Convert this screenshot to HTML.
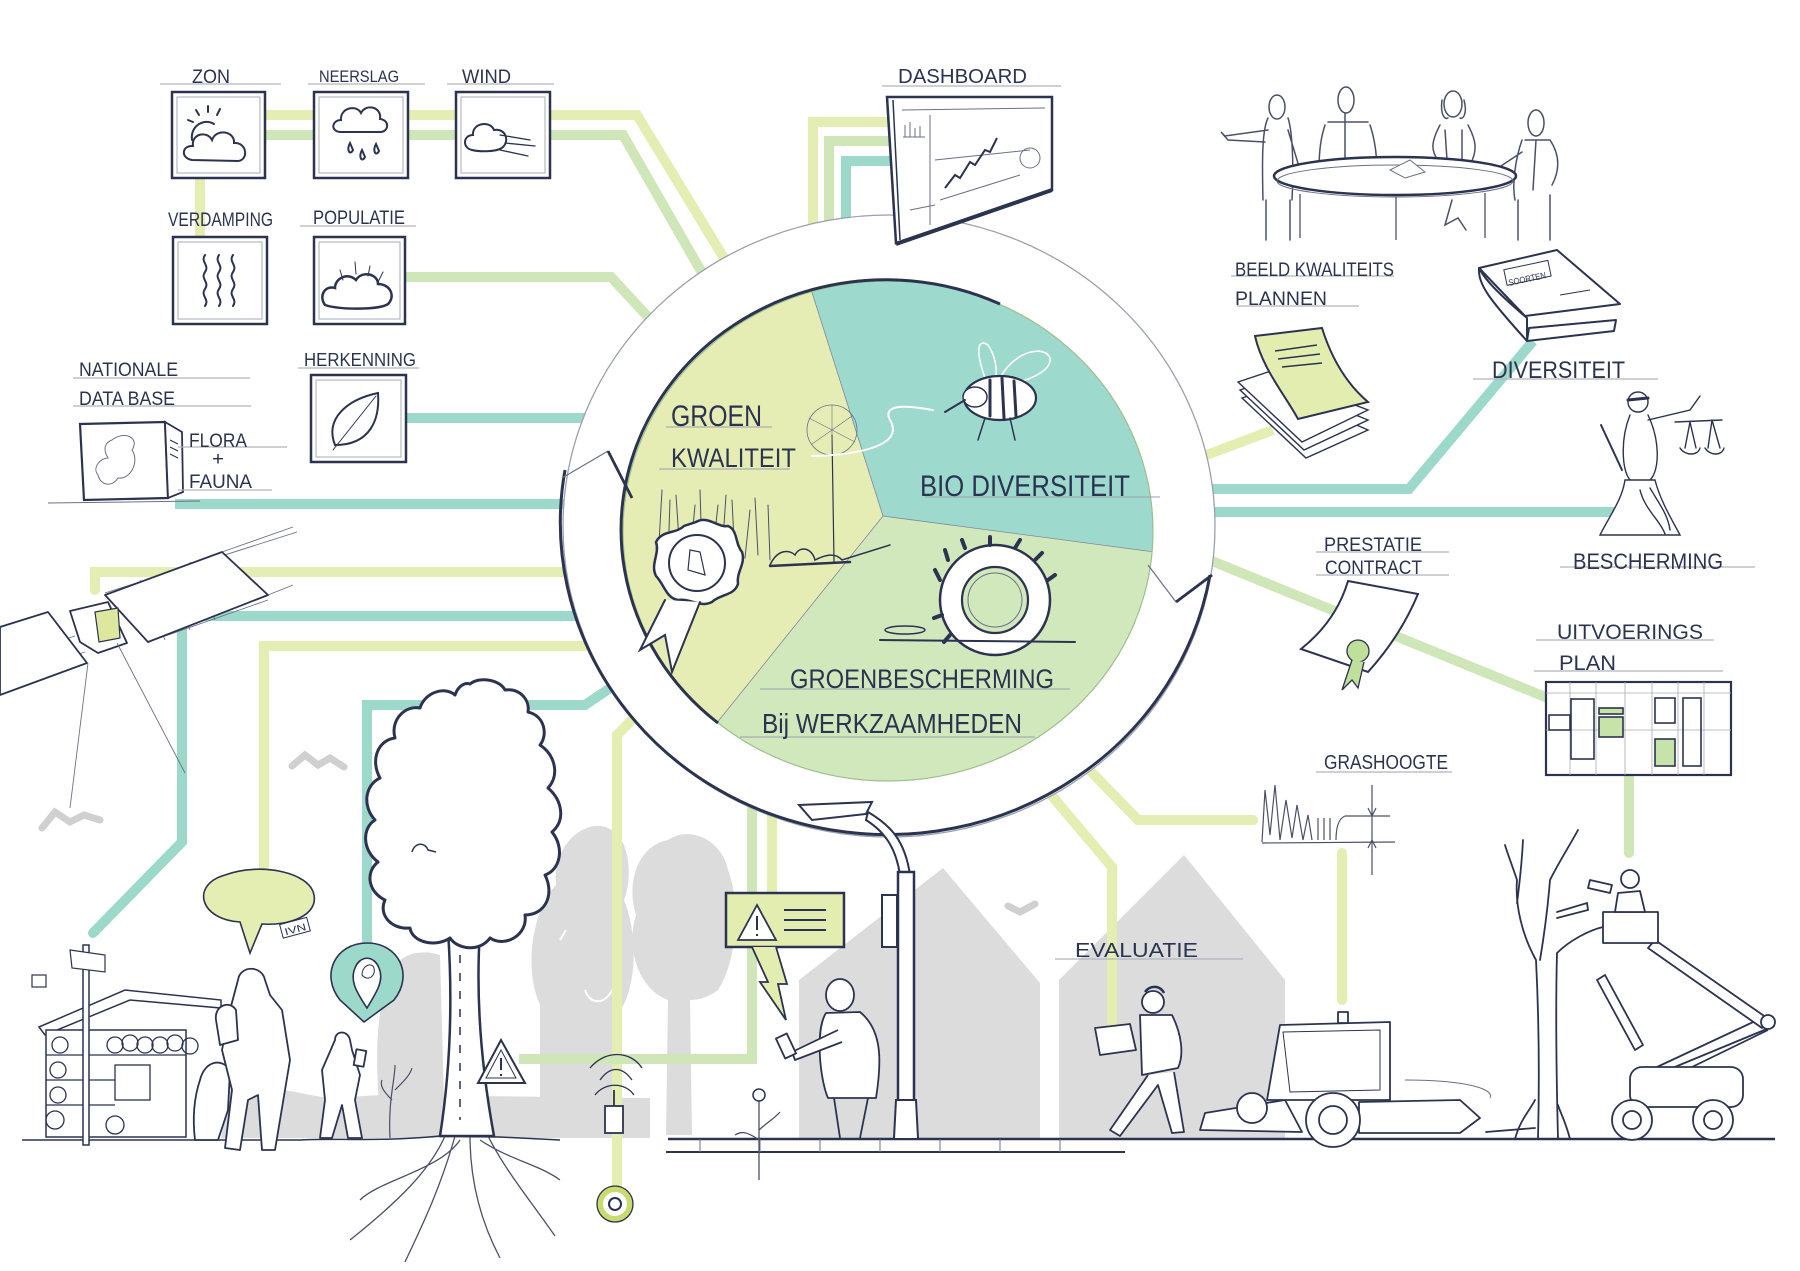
<!DOCTYPE html>
<html><head><meta charset="utf-8"><style>
html,body{margin:0;padding:0;background:#fff;}
svg{display:block}
text{font-family:"Liberation Sans",sans-serif;fill:#2b3350;}
</style></head><body>
<svg width="1800" height="1271" viewBox="0 0 1800 1271" xmlns="http://www.w3.org/2000/svg">
<defs>
<clipPath id="pieclip"><ellipse cx="888" cy="531" rx="265" ry="250"/></clipPath>
</defs>
<rect width="1800" height="1271" fill="#fff"/>

<!-- ===== gray silhouettes ===== -->
<g fill="#dcdcdc">
  <path d="M540,1135 L540,1005 C522,965 535,905 556,885 C552,845 585,818 608,828 C632,838 632,880 624,900 C642,945 632,1000 618,1012 L622,1135 Z"/>
  <path d="M666,1135 L668,1000 C640,990 625,950 636,915 C625,880 640,845 668,840 C690,825 722,840 728,870 C740,900 738,960 718,990 C705,1000 692,1000 690,1000 L692,1135 Z"/>
  <path d="M382,1135 C376,1080 372,1010 392,975 C395,955 420,948 440,955 L445,1135 Z"/>
  <path d="M221,1138 L230,1090 C260,1080 300,1095 330,1098 L380,1095 L650,1098 L650,1138 Z"/>
  <polygon points="799,1138 799,980 943,868 1040,983 1040,1138"/>
  <polygon points="1059,1138 1059,980 1184,855 1285,980 1285,1138"/>
</g>
<g fill="none" stroke="#fff" stroke-width="2">
  <path d="M585,990 C590,1005 605,1005 612,990"/>
  <path d="M560,940 L566,930"/>
</g>
<g fill="none" stroke="#d0d0d0" stroke-width="7" stroke-linecap="round">
  <path d="M292,766 L305,755 L318,765 L330,758 L344,767"/>
  <path d="M42,828 L55,812 L70,822 L84,815 L100,820"/>
  <path d="M1008,906 L1020,912 L1035,904"/>
</g>

<!-- ===== connector lines ===== -->
<g fill="none" stroke-width="10" stroke-linejoin="miter">
  <polyline stroke="#e4edb2" points="220,115 637,115 730,268"/>
  <polyline stroke="#cfe7b8" points="220,135 623,135 705,278"/>
  <polyline stroke="#e4edb2" points="200,175 200,240"/>
  <polyline stroke="#cfe7b8" points="400,277 611,277 662,332"/>
  <polyline stroke="#9cd9cb" points="400,418 610,418"/>
  <polyline stroke="#9cd9cb" points="175,504 610,504"/>
  <polyline stroke="#e4edb2" stroke-linecap="round" points="95,590 95,572 610,572"/>
  <polyline stroke="#9cd9cb" stroke-linecap="round" points="93,933 182,842 182,616 610,616"/>
  <polyline stroke="#e4edb2" points="264,872 264,646 610,646"/>
  <polyline stroke="#9cd9cb" points="367,945 367,705 585,705 625,678"/>
  <polyline stroke="#e4edb2" points="617,1190 617,735 640,712"/>
  <polyline stroke="#cfe7b8" points="519,1059 752,1059 752,790"/>
  <polyline stroke="#e4edb2" points="772,892 772,790"/>
  <polyline stroke="#e4edb2" points="813,245 813,122 892,122"/>
  <polyline stroke="#cfe7b8" points="829,245 829,141 892,141"/>
  <polyline stroke="#9cd9cb" points="846,245 846,161 892,161"/>
  <polyline stroke="#e4edb2" points="1180,465 1273,430"/>
  <polyline stroke="#9cd9cb" points="1190,489 1409,489 1533,341"/>
  <polyline stroke="#9cd9cb" stroke-linecap="round" points="1190,512 1620,512"/>
  <polyline stroke="#cfe7b8" points="1190,552 1550,699"/>
  <polyline stroke="#cfe7b8" stroke-linecap="round" points="1629,772 1629,853"/>
  <polyline stroke="#e4edb2" stroke-linecap="round" points="1070,750 1138,820 1253,820"/>
  <polyline stroke="#e4edb2" points="1030,770 1112,867 1112,1030"/>
  <polyline stroke="#e4edb2" stroke-linecap="round" points="1342,853 1342,1000"/>
</g>

<!-- ===== weather boxes ===== -->
<g stroke="#2b3350" stroke-width="2.5" fill="#fff">
  <rect x="172" y="92" width="93" height="86"/>
  <rect x="314" y="92" width="94" height="86"/>
  <rect x="456" y="92" width="94" height="86"/>
  <rect x="173" y="237" width="94" height="87"/>
  <rect x="314" y="237" width="91" height="87"/>
  <rect x="311" y="375" width="95" height="87"/>
</g>
<g stroke="#a6abb8" stroke-width="1" fill="none">
  <rect x="177" y="97" width="83" height="76"/>
  <rect x="319" y="97" width="84" height="76"/>
  <rect x="461" y="97" width="84" height="76"/>
  <rect x="178" y="242" width="84" height="77"/>
  <rect x="319" y="242" width="81" height="77"/>
  <rect x="316" y="380" width="85" height="77"/>
</g>
<g stroke="#2b3350" stroke-width="2" fill="none" stroke-linecap="round">
  <path d="M192,140 C190,125 205,118 214,124"/>
  <path d="M208,106 L208,112 M196,110 L199,115 M220,109 L217,115 M188,120 L193,122"/>
  <path d="M192,160 C180,158 182,145 193,146 C191,134 207,130 212,140 C216,128 235,131 234,143 C247,142 249,160 238,161 Z"/>
  <path d="M340,132 C330,131 332,120 341,120 C340,108 356,104 361,113 C366,103 382,107 380,119 C390,120 389,132 380,132 Z"/>
  <path d="M350,143 C346,150 350,156 353,150 Z M362,150 C358,157 362,163 365,157 Z M376,144 C372,151 376,157 379,151 Z"/>
  <path d="M472,150 C462,148 463,135 473,135 C472,123 490,120 494,130 C505,128 510,140 503,147 C498,152 480,152 472,150 Z"/>
  <path d="M500,135 L530,140 M505,143 L535,146 M500,150 L528,156" stroke-width="1.3"/>
  <path d="M205,255 c-5,7 5,10 0,17 c-5,7 5,10 0,17 c-5,7 5,10 0,17"/>
  <path d="M219,255 c-5,7 5,10 0,17 c-5,7 5,10 0,17 c-5,7 5,10 0,17"/>
  <path d="M233,255 c-5,7 5,10 0,17 c-5,7 5,10 0,17 c-5,7 5,10 0,17"/>
  <path d="M325,305 C318,295 326,285 335,288 C335,278 348,272 356,280 C362,270 378,274 378,284 C390,284 396,296 388,304 C380,310 340,310 325,305 Z" stroke-width="2.5"/>
  <path d="M340,270 L343,280 M355,262 L356,274 M370,266 L368,276 M383,272 L378,282" stroke-width="1"/>
  <path d="M335,445 C325,420 345,400 378,393 C380,420 370,445 335,445 Z"/>
  <path d="M333,450 L376,396" stroke-width="1"/>
</g>

<!-- database box -->
<g stroke="#2b3350" fill="#fff">
  <polygon points="80,424 165,422 168,498 84,500" stroke-width="2.2"/>
  <polygon points="165,422 182,432 183,492 168,498" stroke-width="1.8"/>
  <path d="M112,440 C125,430 140,438 132,450 C140,462 130,480 118,478 C112,488 100,485 98,475 C92,468 100,458 108,458 C102,448 106,442 112,440 Z" fill="none" stroke="#6a7088" stroke-width="1"/>
  <path d="M170,440 L178,444 M170,447 L178,451 M170,454 L178,458" stroke-width="1" fill="none"/>
</g>
<line x1="48" y1="503" x2="200" y2="501" stroke="#6a7088" stroke-width="1"/>

<!-- satellite -->
<g stroke="#6a7088" stroke-width="0.9" fill="none">
  <path d="M105,593 L297,532 M222,552 L293,527 M268,595 L293,585 M148,642 L268,600"/>
  <path d="M0,660 L75,636 M18,675 L85,652 M120,610 L200,582 M135,625 L230,590 M140,580 L165,640 M165,572 L190,630 M190,562 L215,620"/>
</g>
<g stroke="#2b3350" stroke-width="1.8" fill="#fff" stroke-linejoin="round">
  <polygon points="0,627 48,612 87,663 0,695"/>
  <polygon points="105,595 222,552 268,595 148,642"/>
  <polygon points="70,611 108,602 127,643 98,653 80,642"/>
  <polygon points="95,612 118,608 120,638 99,642" fill="#dde89e" stroke-width="1.2"/>
</g>
<g stroke="#6a7088" stroke-width="0.9">
  <line x1="88" y1="663" x2="70" y2="808"/>
  <line x1="117" y1="643" x2="185" y2="773"/>
</g>

<!-- ===== central circle ===== -->
<ellipse cx="889" cy="526" rx="326" ry="311" fill="#fff" stroke="#9aa0ad" stroke-width="1.3"/>
<path d="M1210,575 A326,311 0 1,1 565,470" fill="none" stroke="#2b3350" stroke-width="3"/>
<g clip-path="url(#pieclip)">
  <polygon fill="#e5edb4" points="883,516 735,50 300,50 300,1000 549,932"/>
  <polygon fill="#9ed9ce" points="883,516 735,50 1500,50 1500,590 1420,586"/>
  <polygon fill="#d1e8bd" points="883,516 1420,586 1500,590 1500,1000 549,932"/>
  <g stroke="#7e8a9a" stroke-width="0.8" fill="none">
    <line x1="883" y1="516" x2="809" y2="283"/>
    <line x1="883" y1="516" x2="1155" y2="552"/>
    <line x1="883" y1="516" x2="716" y2="724"/>
  </g>
</g>
<ellipse cx="888" cy="531" rx="265" ry="250" fill="none" stroke="#9dbf8c" stroke-width="1.2"/>
<path d="M718,723 A265,250 0 0,1 1000,304" fill="none" stroke="#2b3350" stroke-width="3"/>
<polyline points="562,478 608,451" fill="none" stroke="#6a7088" stroke-width="1.2"/>
<polyline points="608,451 632,498" fill="none" stroke="#2b3350" stroke-width="2.8"/>
<polyline points="1148,565 1176,602" fill="none" stroke="#6a7088" stroke-width="1.2"/>
<polyline points="1176,602 1212,575" fill="none" stroke="#2b3350" stroke-width="2.8"/>

<!-- pie decorations -->
<g stroke="#2b3350" fill="none" stroke-linecap="round">
  <path d="M658,560 L662,490 M668,560 L670,500 M680,555 L676,495 M690,560 L695,505 M702,555 L700,490 M712,560 L718,505 M722,555 L726,495 M735,560 L732,500 M745,558 L750,510 M758,555 L755,498 M770,560 L768,505" stroke-width="1" stroke="#4a5068"/>
  <path d="M770,565 C778,548 790,550 795,555 C800,545 812,548 815,560 C825,555 835,552 842,560 L890,545" stroke-width="1.5"/>
  <path d="M770,566 L850,562" stroke-width="2.5"/>
  <circle cx="832" cy="430" r="25" stroke-width="0.8" stroke="#6a7088"/>
  <path d="M832,435 L834,562" stroke-width="1.2"/>
  <path d="M809,418 L855,442 M832,405 L832,455 M812,444 L852,416" stroke-width="0.6" stroke="#6a7088"/>
  <path d="M696,522 C708,515 718,528 728,526 C738,530 735,544 742,552 C746,564 736,572 738,584 C734,596 720,594 712,602 C700,608 690,598 678,600 C666,598 664,584 656,576 C650,564 660,554 656,542 C662,530 676,534 684,526 Z" fill="#fff" stroke-width="2.5"/>
  <circle cx="697" cy="563" r="28" stroke-width="2"/>
  <path d="M665,600 L640,650 L665,635 L672,672 L700,602" fill="#fff" stroke-width="2"/>
  <path d="M688,570 L690,550 L700,552 L705,575 Z" stroke-width="1.2"/>
  <path d="M812,456 C860,455 905,445 890,420 C880,400 920,408 933,410" stroke="#fff" stroke-width="2"/>
  <path d="M985,378 C975,350 978,338 988,345 C995,355 998,370 995,380" stroke="#fff" stroke-width="1.6"/>
  <path d="M1000,378 C1015,350 1045,345 1050,358 C1052,372 1025,382 1005,385" stroke="#fff" stroke-width="1.6"/>
  <ellipse cx="1000" cy="398" rx="36" ry="22" fill="#fff" stroke-width="2.2"/>
  <ellipse cx="975" cy="397" rx="12" ry="10" fill="#fff" stroke-width="1.5"/>
  <path d="M990,380 L990,416 M1002,378 L1004,418 M1014,381 L1016,416" stroke-width="3"/>
  <path d="M965,400 L945,412" stroke-width="2"/>
  <path d="M985,418 L978,440 M1010,418 L1015,440" stroke-width="1.5"/>
  <circle cx="995" cy="600" r="55" fill="#fff" stroke-width="2.5"/>
  <circle cx="995" cy="600" r="33" fill="#d1e8bd" stroke-width="2.2"/>
  <circle cx="995" cy="600" r="27" stroke-width="1" stroke="#6a7088"/>
  <path d="M940,580 L935,570 M948,560 L945,550 M965,548 L962,540 M990,545 L990,537 M1015,548 L1020,540 M1035,560 L1042,553 M1048,580 L1055,575 M942,615 L934,618 M950,635 L944,642" stroke-width="4"/>
  <path d="M880,640 L1075,642" stroke-width="2"/>
  <ellipse cx="905" cy="630" rx="20" ry="4" stroke-width="1.5"/>
</g>
<g stroke="#9aa0ad" stroke-width="1" fill="none">
  <line x1="666" y1="427" x2="772" y2="427"/>
  <line x1="659" y1="469" x2="790" y2="469"/>
  <line x1="925" y1="497" x2="1160" y2="497"/>
  <line x1="760" y1="689" x2="1070" y2="689"/>
  <line x1="740" y1="737" x2="1035" y2="737"/>
</g>
<text x="671" y="426" font-size="30" textLength="91" lengthAdjust="spacingAndGlyphs">GROEN</text>
<text x="671" y="467" font-size="27" textLength="125" lengthAdjust="spacingAndGlyphs">KWALITEIT</text>
<text x="920" y="496" font-size="30" textLength="210" lengthAdjust="spacingAndGlyphs">BIO DIVERSITEIT</text>
<text x="790" y="688" font-size="27" textLength="264" lengthAdjust="spacingAndGlyphs">GROENBESCHERMING</text>
<text x="762" y="733" font-size="28" textLength="260" lengthAdjust="spacingAndGlyphs">Bij WERKZAAMHEDEN</text>

<!-- ===== dashboard ===== -->
<g stroke="#2b3350" fill="#fff">
  <polygon points="887,97 1052,97 1052,190 896,243" stroke-width="2.5"/>
  <line x1="893" y1="100" x2="900" y2="240" stroke-width="1.5"/>
  <line x1="1052" y1="190" x2="896" y2="244" stroke-width="4"/>
  <g fill="none" stroke-width="1" stroke="#6a7088">
    <path d="M902,110 L1045,108 M930,115 L930,225 M935,160 L1030,150 M940,200 L1020,175 M910,210 L935,205"/>
    <path d="M903,137 L925,137 M905,137 L905,125 M910,137 L910,122 M915,137 L915,128 M920,137 L920,126"/>
    <circle cx="1030" cy="158" r="10"/>
  </g>
  <path d="M945,188 L955,175 L960,178 L970,162 L975,165 L985,150 L990,152 L997,138" fill="none" stroke-width="2"/>
</g>

<!-- ===== meeting ===== -->
<g stroke="#4a5068" stroke-width="1.5" fill="none" stroke-linecap="round">
  <ellipse cx="1277" cy="107" rx="8" ry="12"/>
  <path d="M1268,118 C1262,130 1262,160 1263,200 M1288,118 C1292,130 1294,160 1292,200 M1268,130 L1225,136 L1221,132 L1228,140 L1265,142 M1288,130 L1300,170"/>
  <path d="M1266,200 L1266,240 M1290,200 L1290,240"/>
  <ellipse cx="1346" cy="100" rx="8" ry="13"/>
  <path d="M1325,125 C1320,140 1318,160 1320,175 M1370,125 C1375,140 1378,160 1376,175 M1328,122 L1368,122 M1345,113 L1345,170"/>
  <ellipse cx="1453" cy="104" rx="9" ry="13"/>
  <path d="M1442,100 C1440,115 1445,120 1448,118 M1464,100 C1468,115 1462,120 1460,118"/>
  <path d="M1440,125 C1432,140 1430,150 1438,160 L1415,168 M1468,125 C1476,140 1478,150 1470,165 L1478,180 M1445,130 L1448,175 M1462,130 L1462,175"/>
  <path d="M1452,200 L1445,225 L1458,218 L1466,230"/>
  <ellipse cx="1536" cy="123" rx="8" ry="13"/>
  <path d="M1522,140 C1515,160 1512,185 1515,200 M1550,140 C1560,155 1560,170 1552,185 M1525,140 L1550,140 M1536,140 L1533,190 M1522,152 L1495,170"/>
  <path d="M1518,200 L1518,240 M1550,195 L1550,240"/>
</g>
<ellipse cx="1395" cy="176" rx="121" ry="19" fill="#fff" stroke="#2b3350" stroke-width="2.5"/>
<ellipse cx="1395" cy="181" rx="118" ry="16" fill="none" stroke="#6a7088" stroke-width="1"/>
<g stroke="#4a5068" stroke-width="1.3">
  <line x1="1300" y1="194" x2="1300" y2="238"/>
  <line x1="1396" y1="197" x2="1396" y2="240"/>
  <line x1="1485" y1="193" x2="1485" y2="238"/>
</g>
<path d="M1390,170 L1410,160 L1425,172 L1405,178 Z" fill="#fff" stroke="#6a7088" stroke-width="1"/>

<!-- ===== papers ===== -->
<g stroke="#2b3350" stroke-width="1.4" fill="#fff">
  <polygon points="1242,398 1272,388 1368,430 1306,458"/>
  <polygon points="1240,390 1270,380 1368,420 1304,450"/>
  <polygon points="1238,382 1268,372 1368,410 1302,442"/>
  <path d="M1255,336 L1322,328 C1332,360 1348,385 1368,402 L1298,419 C1285,395 1262,368 1255,336 Z" fill="#e3edb0" stroke-width="2"/>
  <path d="M1275,351 L1317,345 M1278,359 L1320,354 M1282,367 L1322,363" fill="none" stroke-width="1.5"/>
</g>

<!-- ===== book ===== -->
<g stroke="#2b3350" stroke-width="2" fill="#fff" stroke-linejoin="round">
  <path d="M1527,341 L1614,331 L1616,320 L1529,328 Z"/>
  <path d="M1479,268 C1478,285 1490,300 1527,341 L1527,318 C1500,295 1485,280 1479,268 Z"/>
  <polygon points="1479,268 1557,250 1620,304 1525,316"/>
  <rect x="1505" y="265" width="45" height="16" transform="rotate(-12 1527 273)" fill="none" stroke-width="1"/>
  <line x1="1560" y1="295" x2="1590" y2="290" stroke-width="1"/>
</g>
<text x="1508" y="282" font-size="9" transform="rotate(-12 1527 278)" textLength="38" lengthAdjust="spacingAndGlyphs">SOORTEN</text>

<!-- ===== justice ===== -->
<g stroke="#2b3350" stroke-width="1.4" fill="none" stroke-linecap="round">
  <circle cx="1638" cy="402" r="10"/>
  <path d="M1628,400 L1648,398" stroke-width="3"/>
  <path d="M1630,415 C1620,440 1622,470 1630,480 M1648,415 C1660,440 1660,470 1650,480 M1648,420 L1690,410 L1700,396"/>
  <path d="M1625,480 L1655,480 C1660,500 1672,520 1680,535 L1600,535 C1610,515 1622,500 1625,480 Z" fill="#fff"/>
  <path d="M1640,490 C1645,510 1660,520 1665,534 M1650,488 C1660,505 1668,515 1670,530"/>
  <path d="M1601,425 L1622,470" stroke-width="2"/>
  <path d="M1675,422 L1722,420 M1690,422 L1685,448 M1690,422 L1696,448 M1712,420 L1708,448 M1712,420 L1720,448"/>
  <path d="M1680,448 C1685,456 1698,456 1700,448 M1705,448 C1710,456 1722,456 1724,448"/>
</g>

<!-- ===== contract ===== -->
<path d="M1348,581 L1418,594 C1405,625 1388,650 1368,672 L1301,649 C1325,630 1340,608 1348,581 Z" fill="#fff" stroke="#2b3350" stroke-width="2"/>
<circle cx="1358" cy="651" r="11" fill="#bfe09a" stroke="#2b3350" stroke-width="1.3"/>
<path d="M1352,660 L1342,690 L1352,680 L1358,688 L1364,662" fill="#bfe09a" stroke="#2b3350" stroke-width="1.3"/>

<!-- ===== plan board ===== -->
<rect x="1546" y="682" width="185" height="93" fill="#fff" stroke="#2b3350" stroke-width="2.2"/>
<g stroke="#a6abb8" stroke-width="0.8">
  <line x1="1546" y1="693" x2="1731" y2="693"/><line x1="1546" y1="730" x2="1731" y2="730"/>
  <line x1="1570" y1="682" x2="1570" y2="775"/><line x1="1596" y1="682" x2="1596" y2="775"/>
  <line x1="1625" y1="682" x2="1625" y2="775"/><line x1="1652" y1="682" x2="1652" y2="775"/>
  <line x1="1678" y1="682" x2="1678" y2="775"/><line x1="1704" y1="682" x2="1704" y2="775"/>
</g>
<g stroke="#2b3350" stroke-width="1.6" fill="none">
  <rect x="1549" y="715" width="21" height="15"/>
  <rect x="1571" y="699" width="23" height="60"/>
  <rect x="1655" y="698" width="20" height="25"/>
  <rect x="1683" y="698" width="18" height="68"/>
  <rect x="1599" y="708" width="24" height="6" fill="#c8e3aa"/>
  <rect x="1599" y="717" width="24" height="20" fill="#c8e3aa"/>
  <rect x="1655" y="739" width="20" height="27" fill="#c8e3aa"/>
</g>

<!-- ===== labels ===== -->
<g stroke="#b0b4be" stroke-width="1.2">
  <line x1="160" y1="84" x2="281" y2="84"/><line x1="308" y1="84" x2="425" y2="84"/>
  <line x1="447" y1="84" x2="554" y2="84"/><line x1="300" y1="226" x2="416" y2="226"/>
  <line x1="298" y1="368" x2="419" y2="368"/><line x1="73" y1="378" x2="250" y2="378"/>
  <line x1="73" y1="406" x2="251" y2="406"/><line x1="178" y1="447" x2="287" y2="447"/>
  <line x1="178" y1="490" x2="272" y2="490"/><line x1="882" y1="86" x2="1061" y2="86"/>
  <line x1="1231" y1="276" x2="1394" y2="276"/><line x1="1237" y1="306" x2="1359" y2="306"/>
  <line x1="1473" y1="379" x2="1658" y2="379"/><line x1="1560" y1="567" x2="1755" y2="567"/>
  <line x1="1316" y1="552" x2="1449" y2="552"/><line x1="1316" y1="575" x2="1449" y2="575"/>
  <line x1="1536" y1="640" x2="1714" y2="640"/><line x1="1534" y1="671" x2="1723" y2="671"/>
  <line x1="1316" y1="772" x2="1452" y2="772"/><line x1="1055" y1="959" x2="1243" y2="959"/>
</g>
<g font-size="19">
<text x="192" y="83" textLength="38" lengthAdjust="spacingAndGlyphs">ZON</text>
<text x="319" y="82" font-size="17" textLength="80" lengthAdjust="spacingAndGlyphs">NEERSLAG</text>
<text x="462" y="83" textLength="49" lengthAdjust="spacingAndGlyphs">WIND</text>
<text x="168" y="226" textLength="105" lengthAdjust="spacingAndGlyphs">VERDAMPING</text>
<text x="313" y="224" textLength="92" lengthAdjust="spacingAndGlyphs">POPULATIE</text>
<text x="304" y="366" font-size="18" textLength="112" lengthAdjust="spacingAndGlyphs">HERKENNING</text>
<text x="79" y="376" textLength="99" lengthAdjust="spacingAndGlyphs">NATIONALE</text>
<text x="79" y="405" textLength="96" lengthAdjust="spacingAndGlyphs">DATA BASE</text>
<text x="189" y="447" textLength="58" lengthAdjust="spacingAndGlyphs">FLORA</text>
<text x="212" y="465" textLength="12" lengthAdjust="spacingAndGlyphs">+</text>
<text x="189" y="488" textLength="63" lengthAdjust="spacingAndGlyphs">FAUNA</text>
<text x="898" y="83" font-size="20" textLength="129" lengthAdjust="spacingAndGlyphs">DASHBOARD</text>
<text x="1235" y="276" textLength="159" lengthAdjust="spacingAndGlyphs">BEELD KWALITEITS</text>
<text x="1235" y="305" textLength="92" lengthAdjust="spacingAndGlyphs">PLANNEN</text>
<text x="1492" y="378" font-size="24" textLength="133" lengthAdjust="spacingAndGlyphs">DIVERSITEIT</text>
<text x="1573" y="569" font-size="22" textLength="150" lengthAdjust="spacingAndGlyphs">BESCHERMING</text>
<text x="1324" y="551" textLength="98" lengthAdjust="spacingAndGlyphs">PRESTATIE</text>
<text x="1325" y="574" textLength="97" lengthAdjust="spacingAndGlyphs">CONTRACT</text>
<text x="1557" y="639" font-size="21" textLength="146" lengthAdjust="spacingAndGlyphs">UITVOERINGS</text>
<text x="1559" y="670" font-size="21" textLength="57" lengthAdjust="spacingAndGlyphs">PLAN</text>
<text x="1324" y="769" font-size="20" textLength="124" lengthAdjust="spacingAndGlyphs">GRASHOOGTE</text>
<text x="1075" y="957" font-size="20" textLength="123" lengthAdjust="spacingAndGlyphs">EVALUATIE</text>
</g>

<!-- grass height -->
<g stroke="#4a5068" stroke-width="1.2" fill="none">
  <path d="M1262,842 L1265,790 L1270,835 L1275,785 L1280,840 L1286,800 L1292,838 L1297,805 L1303,840 L1308,815 L1312,840 M1318,840 L1318,818 M1324,840 L1324,818 M1330,840 L1330,818 M1336,840 C1336,825 1340,818 1345,816"/>
  <path d="M1262,843 L1395,842 M1345,816 L1390,816"/>
  <path d="M1372,785 L1372,875 M1368,808 L1372,816 L1376,808 M1368,848 L1372,840 L1376,848"/>
</g>

<!-- ===== bottom scene ===== -->
<g stroke="#2b3350" fill="#fff" stroke-linejoin="round">
  <path d="M448,930 C452,990 452,1060 440,1136 L494,1136 C480,1060 476,990 480,930 Z" stroke-width="2.5"/>
  <path d="M470,684 C480,676 500,680 505,690 C520,688 530,700 528,712 C545,716 548,735 540,745 C555,755 560,775 548,788 C562,800 566,820 552,832 C565,848 560,870 545,875 C555,895 545,915 525,915 C528,935 505,948 490,938 C480,952 458,950 450,938 C435,948 412,942 410,928 C392,930 378,915 385,900 C368,892 365,872 378,862 C362,850 362,828 375,820 C362,806 365,785 380,778 C370,760 378,740 395,738 C390,720 405,705 420,708 C425,692 445,686 455,695 C458,686 465,682 470,684 Z" stroke-width="3"/>
  <path d="M460,955 L460,1120" fill="none" stroke-width="1.5" stroke-dasharray="8 10"/>
  <path d="M412,852 C415,842 425,842 428,850 L436,852" fill="none" stroke-width="1.5"/>
</g>
<g stroke="#4a5068" stroke-width="1.3" fill="none">
  <path d="M445,1136 C430,1170 400,1200 350,1240 M455,1136 C440,1190 420,1230 405,1262 M470,1136 C470,1180 480,1220 500,1258 M488,1136 C505,1170 530,1200 555,1236 M460,1140 C440,1170 380,1180 360,1200 M480,1140 C510,1160 540,1165 560,1180"/>
</g>
<g stroke="#2b3350" fill="none">
  <path d="M22,1140 L300,1140 C330,1138 380,1142 440,1136 L500,1137 L560,1140" stroke-width="1.5"/>
  <line x1="668" y1="1139" x2="1775" y2="1139" stroke-width="2.5"/>
  <line x1="666" y1="1152" x2="1125" y2="1152" stroke-width="2"/>
  <path d="M700,1139 L700,1152 M760,1139 L760,1152 M820,1139 L820,1152 M880,1139 L880,1152 M940,1139 L940,1152 M1000,1139 L1000,1152 M1060,1139 L1060,1152" stroke-width="1" stroke="#6a7088"/>
</g>

<!-- speech bubble -->
<path d="M240,922 C200,920 190,885 225,875 C260,862 310,872 314,895 C318,915 290,926 262,924 L250,953 Z" fill="#e4edb2" stroke="#2b3350" stroke-width="1.6"/>
<g transform="rotate(-15 294 928)"><rect x="281" y="921" width="28" height="14" fill="#fff" stroke="#2b3350" stroke-width="1"/><text x="284" y="933" font-size="10" textLength="22" lengthAdjust="spacingAndGlyphs">IVN</text></g>
<!-- map pin -->
<path d="M340,1000 C320,975 335,943 367,943 C399,943 414,975 394,1000 L364,1022 Z" fill="#9cd9cb" stroke="#2b3350" stroke-width="1.6"/>
<path d="M367,1008 C355,990 350,980 355,968 C360,955 374,955 379,968 C384,980 378,990 367,1008 Z" fill="#fff" stroke="#2b3350" stroke-width="1.6"/>
<path d="M362,975 C362,965 372,962 374,968 C376,976 368,982 362,975 Z" fill="none" stroke="#2b3350" stroke-width="1"/>

<!-- insect hotel -->
<g stroke="#2b3350" fill="#fff" stroke-width="1.5">
  <polygon points="39,1027 125,990 221,1000 221,1008 130,1000 45,1035"/>
  <rect x="46" y="1030" width="140" height="107" fill="#fff"/>
  <g fill="none" stroke-width="1.3">
    <path d="M46,1055 L186,1055 M46,1080 L115,1080 M46,1105 L115,1105"/>
    <circle cx="115" cy="1045" r="8"/><circle cx="130" cy="1043" r="8"/><circle cx="145" cy="1045" r="8"/>
    <circle cx="160" cy="1045" r="8"/><circle cx="175" cy="1043" r="8"/><circle cx="190" cy="1046" r="8"/>
    <rect x="115" y="1065" width="35" height="35"/>
    <circle cx="115" cy="1125" r="9"/><circle cx="60" cy="1045" r="8"/><circle cx="55" cy="1120" r="9"/>
    <circle cx="58" cy="1070" r="8"/><circle cx="58" cy="1095" r="8"/>
  </g>
  <rect x="83" y="945" width="6" height="200"/>
  <path d="M70,950 L105,955 L105,972 L72,968 Z" fill="#fff" stroke-width="1.2"/>
  <rect x="32" y="975" width="14" height="12" fill="#fff" stroke-width="1.2"/>
</g>
<!-- people left -->
<g stroke="#2b3350" stroke-width="1.8" fill="#fff" stroke-linejoin="round">
  <path d="M200,1080 C205,1060 222,1058 230,1070 L228,1110 L218,1140 L195,1140 C192,1115 195,1095 200,1080 Z"/>
  <path d="M238,980 C240,965 262,965 265,980 L270,995 L282,1010 L290,1060 L285,1090 L275,1150 L262,1150 L258,1095 L248,1100 L240,1150 L225,1148 L232,1090 L222,1050 L230,1010 Z"/>
  <path d="M216,1020 C214,1005 230,1000 236,1010 L238,1040 L220,1045 Z"/>
  <path d="M335,1040 C335,1030 348,1030 350,1040 L352,1050 L360,1075 L355,1100 L362,1138 L348,1138 L342,1105 L332,1138 L320,1138 L325,1100 L322,1070 Z"/>
  <rect x="355" y="1050" width="10" height="16" transform="rotate(10 360 1058)"/>
</g>
<path d="M390,1138 C388,1100 395,1080 395,1065 M395,1090 C405,1080 410,1075 412,1068 M392,1100 C382,1090 380,1085 382,1080" stroke="#4a5068" stroke-width="1.2" fill="none"/>
<!-- warning triangle -->
<polygon points="501,1040 478,1083 525,1083" fill="#fff" stroke="#2b3350" stroke-width="2"/>
<polygon points="501,1050 486,1078 516,1078" fill="none" stroke="#2b3350" stroke-width="1"/>
<path d="M501,1058 L501,1070 M501,1074 L501,1076" stroke="#2b3350" stroke-width="2"/>

<!-- sensor -->
<g stroke="#2b3350" fill="none" stroke-width="1.8">
  <path d="M595,1095 C605,1082 625,1082 634,1095 M600,1080 C610,1066 622,1066 632,1080 M590,1068 C605,1050 630,1050 642,1068" stroke-width="1.3"/>
  <line x1="614" y1="1106" x2="614" y2="1090"/>
  <rect x="605" y="1106" width="18" height="27" fill="#fff"/>
  <circle cx="615" cy="1204" r="15" stroke="#c9da6e" stroke-width="6" fill="#fff"/>
  <circle cx="615" cy="1204" r="18" stroke-width="1.3"/>
  <circle cx="615" cy="1204" r="6" stroke-width="2"/>
</g>

<!-- warning box -->
<rect x="726" y="893" width="118" height="54" fill="#e3edb0" stroke="#2b3350" stroke-width="2.5"/>
<polygon points="757,905 738,940 776,940" fill="#fff" stroke="#2b3350" stroke-width="1.8"/>
<path d="M757,916 L757,930 M757,934 L757,936" stroke="#2b3350" stroke-width="2"/>
<path d="M784,910 L826,910 M784,920 L826,920 M784,930 L826,930" stroke="#2b3350" stroke-width="2"/>
<path d="M752,947 L768,982 L760,982 L786,1020 L778,984 L787,984 L776,947" fill="#e3edb0" stroke="#2b3350" stroke-width="1.8"/>
<!-- flower -->
<path d="M759,1100 L759,1180 M759,1140 C745,1130 740,1132 735,1135 M759,1130 C770,1120 775,1118 780,1112" stroke="#4a5068" stroke-width="1.3" fill="none"/>
<circle cx="759" cy="1095" r="6" fill="#fff" stroke="#2b3350" stroke-width="1.5"/>

<!-- woman -->
<g stroke="#2b3350" stroke-width="1.8" fill="#fff" stroke-linejoin="round">
  <path d="M826,1013 C815,1030 820,1080 828,1098 L876,1098 C882,1060 882,1030 860,1012 Z"/>
  <ellipse cx="840" cy="995" rx="14" ry="16"/>
  <path d="M838,1030 L792,1052 L795,1060 L842,1042"/>
  <rect x="780" y="1035" width="12" height="22" transform="rotate(-25 786 1046)"/>
  <path d="M834,1098 L840,1138 M868,1098 L860,1138" fill="none"/>
</g>
<!-- street lamp -->
<g stroke="#2b3350" fill="#fff">
  <path d="M868,812 C890,825 905,840 910,875 L900,875 C896,848 885,832 866,820 Z" stroke-width="2"/>
  <polygon points="799,805 872,802 866,814 812,820" stroke-width="2"/>
  <rect x="898" y="872" width="16" height="266" stroke-width="2.5"/>
  <path d="M894,1138 L896,1100 L916,1100 L918,1138" stroke-width="2"/>
  <rect x="882" y="895" width="15" height="52" stroke-width="2"/>
</g>
<!-- evaluation person -->
<g stroke="#2b3350" stroke-width="1.8" fill="#fff" stroke-linejoin="round">
  <path d="M1140,1015 L1172,1015 C1182,1035 1184,1055 1178,1068 L1142,1075 Z"/>
  <circle cx="1153" cy="1002" r="11"/>
  <path d="M1145,992 C1150,985 1160,985 1164,993" fill="none" stroke-width="2.5"/>
  <polygon points="1095,1028 1130,1024 1136,1050 1100,1055"/>
  <path d="M1148,1075 L1110,1130 L1120,1136 L1158,1085 L1172,1133 L1184,1132 L1174,1072" />
</g>
<!-- mower -->
<g stroke="#2b3350" fill="#fff" stroke-width="1.8" stroke-linejoin="round">
  <polygon points="1200,1130 1205,1113 1285,1100 1302,1132"/>
  <polygon points="1359,1102 1460,1100 1480,1118 1460,1133 1359,1133"/>
  <path d="M1267,1100 L1280,1025 L1390,1022 L1390,1100 Z"/>
  <path d="M1283,1032 L1380,1030 L1380,1090 L1290,1092 Z" fill="none" stroke-width="1"/>
  <rect x="1338" y="1012" width="10" height="11"/>
  <circle cx="1333" cy="1120" r="27"/>
  <circle cx="1333" cy="1120" r="14"/>
  <circle cx="1252" cy="1108" r="15"/>
</g>
<path d="M1405,1080 C1470,1080 1495,1090 1490,1098" stroke="#6a7088" stroke-width="1" fill="none"/>
<!-- bare tree -->
<g stroke="#2b3350" stroke-width="1.8" fill="none" stroke-linecap="round">
  <path d="M1538,1139 C1540,1060 1538,1000 1536,960 C1522,935 1515,905 1517,880 C1512,865 1508,855 1505,845"/>
  <path d="M1558,1139 C1556,1060 1556,990 1557,953 C1570,940 1590,930 1603,927"/>
  <path d="M1540,960 C1545,930 1548,905 1550,880 C1560,860 1570,845 1578,830"/>
  <path d="M1517,903 C1520,880 1522,860 1523,840"/>
  <path d="M1557,912 L1587,903 L1588,910 L1557,918"/>
  <path d="M1515,1139 C1520,1120 1530,1110 1535,1100 M1570,1139 C1565,1120 1560,1112 1558,1105 M1486,1132 L1535,1128"/>
</g>
<!-- aerial lift -->
<g stroke="#2b3350" fill="#fff" stroke-width="1.8" stroke-linejoin="round">
  <path d="M1657,1067 L1766,1016 L1774,1026 L1670,1069 Z"/>
  <path d="M1692,1067 L1768,1030"/>
  <path d="M1770,1020 L1655,940 L1648,948 L1762,1028 Z"/>
  <circle cx="1768" cy="1022" r="7"/>
  <rect x="1603" y="912" width="55" height="31"/>
  <circle cx="1630" cy="879" r="9"/>
  <path d="M1618,893 L1640,891 L1645,912 L1615,912 Z"/>
  <path d="M1590,880 L1612,885 L1610,893 L1588,888 Z"/>
  <path d="M1597,980 L1605,975 L1643,1045 L1635,1050 Z"/>
  <rect x="1630" y="1067" width="113" height="40" rx="12"/>
  <circle cx="1632" cy="1120" r="20"/>
  <circle cx="1632" cy="1120" r="9"/>
  <circle cx="1713" cy="1120" r="20"/>
  <circle cx="1713" cy="1120" r="9"/>
</g>
</svg>
</body></html>
